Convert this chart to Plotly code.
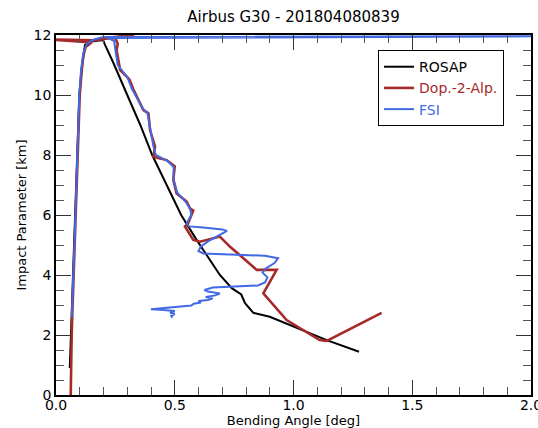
import plotly.graph_objects as go

# ROSAP (black)
rosap_x = [0.058, 0.063, 0.068, 0.072, 0.076, 0.080, 0.085, 0.090, 0.094, 0.098, 0.110, 0.122, 0.150, 0.198,
           0.206, 0.240, 0.300, 0.355, 0.405, 0.465, 0.527, 0.592, 0.648, 0.690, 0.740, 0.780, 0.796, 0.831,
           0.900, 1.040, 1.140, 1.276]
rosap_y = [0.9, 2.0, 3.0, 4.0, 5.0, 6.0, 7.0, 8.0, 9.0, 10.0, 11.0, 11.67, 11.78, 11.83,
           11.68, 11.10, 10.0, 9.0, 8.0, 7.0, 6.0, 5.17, 4.5, 4.0, 3.56, 3.35, 3.06, 2.74,
           2.61, 2.17, 1.83, 1.44]

# Dop.-2-Alp. (brown)
dop_x = [0.062, 0.063, 0.066, 0.070, 0.074, 0.080, 0.083, 0.088, 0.092, 0.096, 0.100, 0.108, 0.115, 0.125,
         0.150, -0.02, 0.160, 0.330, 0.200, 0.250, 0.260, 0.255, 0.265, 0.270, 0.300, 0.310, 0.325, 0.347,
         0.368, 0.389, 0.396, 0.417, 0.410, 0.430, 0.466, 0.500, 0.494, 0.508, 0.550, 0.564, 0.578, 0.555,
         0.543, 0.578, 0.606, 0.690, 0.733, 0.789, 0.845, 0.929, 0.873, 0.971, 1.040, 1.110, 1.140, 1.371]
dop_y = [0.0, 1.0, 2.0, 3.0, 4.0, 5.0, 6.0, 7.0, 8.0, 9.0, 10.0, 10.8, 11.3, 11.6,
         11.75, 11.85, 11.82, 12.02, 11.88, 11.90, 11.70, 11.50, 11.0, 10.83, 10.6, 10.5, 10.2, 9.83,
         9.5, 9.39, 8.83, 8.28, 7.94, 7.90, 7.83, 7.62, 7.17, 6.72, 6.45, 6.22, 6.15, 5.70,
         5.62, 5.17, 5.11, 5.28, 4.94, 4.56, 4.17, 4.17, 3.39, 2.50, 2.17, 1.83, 1.80, 2.74]

# FSI (blue)
fsi_x = [0.066, 0.069, 0.073, 0.078, 0.082, 0.087, 0.090, 0.095, 0.098, 0.105, 0.115, 0.130, 0.160, 0.200,
         2.100, 0.220, 0.245, 0.250, 0.260, 0.275, 0.300, 0.320, 0.345, 0.365, 0.385, 0.395, 0.410, 0.420,
         0.470, 0.495, 0.495, 0.510, 0.545, 0.565, 0.570, 0.550, 0.560, 0.620, 0.700, 0.720, 0.680, 0.640,
         0.610, 0.600, 0.620, 0.750, 0.880, 0.935, 0.920, 0.880, 0.870, 0.890, 0.880, 0.850, 0.780, 0.660,
         0.625, 0.640, 0.690, 0.670, 0.630, 0.660, 0.640, 0.600, 0.610, 0.580, 0.570, 0.520, 0.450, 0.400,
         0.440, 0.500, 0.480, 0.500, 0.485, 0.490]
fsi_y = [2.57, 3.0, 4.0, 5.0, 6.0, 7.0, 8.0, 9.0, 10.0, 10.8, 11.4, 11.7, 11.85, 11.93,
         11.96, 11.90, 11.80, 11.50, 11.0, 10.85, 10.6, 10.2, 9.85, 9.55, 9.40, 8.90, 8.30, 8.00,
         7.80, 7.60, 7.20, 6.75, 6.45, 6.20, 6.00, 5.72, 5.62, 5.58, 5.52, 5.47, 5.30, 5.12,
         4.95, 4.80, 4.72, 4.68, 4.64, 4.56, 4.40, 4.20, 4.08, 3.92, 3.75, 3.65, 3.62, 3.58,
         3.50, 3.45, 3.38, 3.32, 3.27, 3.22, 3.17, 3.13, 3.08, 3.04, 2.98, 2.95, 2.90, 2.86,
         2.84, 2.80, 2.74, 2.70, 2.64, 2.58]

title = "Airbus G30 - 201804080839"
x_title = "Bending Angle [deg]"
y_title = "Impact Parameter [km]"

BLACK = "#000000"
RED = "#a52a2a"
BLUE = "#4169e1"

fig = go.Figure()
fig.add_trace(go.Scatter(x=rosap_x, y=rosap_y, mode="lines", line=dict(color=BLACK, width=2),
                         name='<span style="color:#000000">ROSAP</span>'))
fig.add_trace(go.Scatter(x=dop_x, y=dop_y, mode="lines", line=dict(color=RED, width=2.6),
                         name='<span style="color:#a52a2a">Dop.-2-Alp.</span>'))
fig.add_trace(go.Scatter(x=fsi_x, y=fsi_y, mode="lines", line=dict(color=BLUE, width=2),
                         name='<span style="color:#4169e1">FSI</span>'))

axis_common = dict(
    showgrid=False, zeroline=False, showline=True, linecolor="black", linewidth=1.5,
    mirror="allticks", ticks="inside", ticklen=15, tickwidth=1.2, tickcolor="#333333",
    tickfont=dict(family="DejaVu Sans", size=14, color="black"),
    ticklabeloverflow="allow", automargin=False,
)

fig.update_xaxes(range=[0, 2], dtick=0.5, tick0=0, tickformat=".1f", ticklabelstandoff=-4,
                 minor=dict(dtick=0.1, ticks="inside", ticklen=8, tickcolor="#555555", tickwidth=1),
                 title=dict(text=x_title, font=dict(family="DejaVu Sans", size=13, color="black"), standoff=0),
                 **axis_common)
fig.update_yaxes(range=[0, 12], dtick=2, tick0=0,
                 minor=dict(dtick=0.5, ticks="inside", ticklen=8, tickcolor="#555555", tickwidth=1),
                 title=dict(text=y_title, font=dict(family="DejaVu Sans", size=13, color="black"), standoff=4),
                 **axis_common)

fig.update_layout(
    width=538, height=428,
    margin=dict(l=56, r=7, t=35, b=33, autoexpand=False),
    paper_bgcolor="white", plot_bgcolor="white",
    title=dict(text=title, x=0.5455, xanchor="center", y=0.96, yanchor="middle",
               font=dict(family="DejaVu Sans", size=15, color="black")),
    font=dict(family="DejaVu Sans"),
    legend=dict(x=0.678, y=0.958, xanchor="left", yanchor="top",
                bordercolor="black", borderwidth=1, bgcolor="white",
                font=dict(family="DejaVu Sans", size=14), tracegroupgap=0, itemwidth=30),
)

fig.write_html("out.html")
